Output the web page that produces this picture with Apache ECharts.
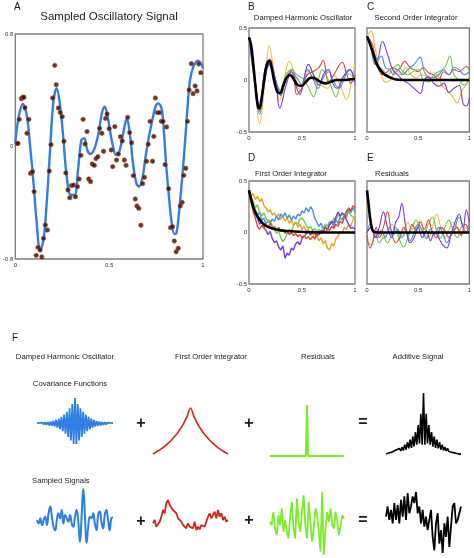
<!DOCTYPE html>
<html><head><meta charset="utf-8">
<script src="https://cdn.jsdelivr.net/npm/echarts@6/dist/echarts.min.js"></script>
<style>html,body{margin:0;padding:0;background:#fff}#c{width:474px;height:558px}</style>
</head><body><div id="c"></div><script>
const FONT = 'Liberation Sans, Arial, Helvetica, sans-serif';
const C_YEL='#f2bd3a', C_RED='#e4452f', C_GRN='#72cc45', C_BLU='#4a8ee6', C_PUR='#7a3be0';

// ---- Panel A ----
const A_CURVE_X = [0,0.018,0.04,0.062,0.079,0.097,0.114,0.132,0.15,0.167,0.185,0.202,0.22,0.237,0.255,0.272,0.295,0.316,0.334,0.352,0.369,0.383,0.401,0.422,0.443,0.461,0.476,0.492,0.501,0.519,0.536,0.554,0.575,0.594,0.61,0.627,0.645,0.659,0.677,0.694,0.712,0.73,0.747,0.761,0.779,0.791,0.803,0.817,0.831,0.847,0.858,0.87,0.888,0.905,0.919,0.931,0.949,0.972,0.989,1.0];
const A_CURVE_Y = [0.03,0.212,0.302,0.212,-0.001,-0.262,-0.546,-0.736,-0.665,-0.404,-0.025,0.307,0.414,0.307,0.07,-0.19,-0.345,-0.345,-0.167,0.046,0.058,-0.025,-0.053,-0.013,0.094,0.236,0.283,0.212,0.141,0.011,-0.06,-0.037,0.094,0.2,0.094,-0.119,-0.262,-0.286,-0.226,-0.072,0.07,0.189,0.283,0.307,0.272,0.117,-0.119,-0.333,-0.522,-0.622,-0.617,-0.499,-0.238,0.046,0.307,0.473,0.568,0.61,0.592,0.556];
const A_PTS_X = [0.009,0.014,0.021,0.032,0.039,0.046,0.051,0.062,0.072,0.081,0.092,0.1,0.111,0.121,0.132,0.141,0.15,0.16,0.171,0.181,0.19,0.199,0.21,0.218,0.229,0.239,0.25,0.259,0.269,0.28,0.29,0.299,0.31,0.32,0.331,0.34,0.349,0.361,0.371,0.382,0.391,0.401,0.41,0.421,0.43,0.44,0.449,0.461,0.47,0.481,0.489,0.5,0.511,0.519,0.53,0.539,0.549,0.56,0.57,0.581,0.59,0.599,0.609,0.62,0.629,0.639,0.648,0.658,0.669,0.678,0.688,0.699,0.708,0.718,0.731,0.738,0.746,0.757,0.768,0.778,0.787,0.798,0.806,0.817,0.827,0.838,0.847,0.857,0.868,0.879,0.889,0.898,0.908,0.917,0.926,0.938,0.947,0.958,0.968,0.977,0.988];
const A_PTS_Y = [0.022,0.022,0.193,0.34,0.35,0.35,0.276,0.094,0.193,-0.19,-0.179,-0.321,-0.774,-0.717,-0.736,-0.786,-0.653,-0.558,-0.594,-0.174,0.013,0.345,0.577,0.44,0.274,0.241,0.212,0.037,-0.188,-0.309,-0.364,-0.278,-0.274,-0.357,-0.285,-0.231,-0.063,0.193,0.018,0.106,-0.231,-0.25,-0.124,-0.134,-0.086,-0.072,0.129,0.094,-0.034,0.2,0.231,0.127,-0.025,-0.143,0.141,-0.096,-0.053,0.07,0.039,-0.096,-0.134,0.207,0.099,0.027,-0.207,-0.373,-0.423,-0.44,-0.56,-0.264,-0.219,-0.105,0.016,0.179,-0.105,0.072,0.345,0.241,0.241,0.179,0.179,-0.129,0.139,-0.3,-0.577,-0.57,-0.672,-0.748,-0.724,-0.423,-0.397,-0.205,-0.155,0.179,0.402,0.589,0.376,0.43,0.395,0.587,0.525];

// ---- Panel B (damped harmonic oscillator) ----
const B_BLACK = [[0,0.41],[0.019,0.339],[0.041,0.145],[0.063,-0.081],[0.082,-0.242],[0.097,-0.274],[0.119,-0.177],[0.145,0.016],[0.167,0.145],[0.192,0.184],[0.214,0.113],[0.239,-0.016],[0.267,-0.113],[0.292,-0.129],[0.324,-0.048],[0.355,0.023],[0.387,0.048],[0.418,0.016],[0.459,-0.048],[0.497,-0.055],[0.538,-0.016],[0.585,0.023],[0.623,0.016],[0.67,-0.016],[0.717,-0.032],[0.774,-0.016],[0.827,0],[0.89,0],[0.953,0.006],[1,0.01]];
const B_YEL = [[0,0.41],[0.05,0.0],[0.1,-0.42],[0.15,-0.02],[0.19,0.33],[0.24,0.05],[0.29,-0.2],[0.33,0.0],[0.38,0.18],[0.43,0.05],[0.48,-0.1],[0.53,0.02],[0.58,0.1],[0.63,-0.02],[0.68,-0.05],[0.74,-0.08],[0.8,0.05],[0.86,-0.05],[0.92,-0.19],[0.97,0.0],[1,0.16]];
const B_RED = [[0,0.41],[0.05,0.05],[0.1,-0.3],[0.15,0.1],[0.2,0.2],[0.25,0.0],[0.3,-0.12],[0.35,0.02],[0.41,0.1],[0.45,-0.14],[0.5,-0.08],[0.55,0.05],[0.6,0.08],[0.66,0.12],[0.7,0.19],[0.75,-0.02],[0.8,0.05],[0.88,0.17],[0.92,0.06],[0.96,-0.03],[1,0.05]];
const B_GRN = [[0,0.41],[0.05,0.0],[0.1,-0.25],[0.15,0.05],[0.2,0.15],[0.25,0.0],[0.3,-0.1],[0.35,0.05],[0.4,0.1],[0.45,0.05],[0.5,0.02],[0.55,-0.05],[0.61,-0.16],[0.65,-0.02],[0.69,0.1],[0.75,0.0],[0.78,-0.08],[0.82,-0.16],[0.88,0.02],[0.94,0.06],[1,0.0]];
const B_BLU = [[0,0.41],[0.05,0.0],[0.1,-0.33],[0.15,0.0],[0.2,0.18],[0.25,0.0],[0.3,-0.15],[0.35,0.0],[0.4,0.08],[0.45,0.02],[0.5,-0.05],[0.55,0.1],[0.6,0.02],[0.65,-0.08],[0.7,0.02],[0.75,0.08],[0.8,-0.02],[0.85,-0.08],[0.9,0.02],[0.95,0.1],[1,-0.05]];
const B_PUR = [[0,0.41],[0.05,0.05],[0.1,-0.25],[0.15,0.05],[0.2,0.15],[0.25,0.0],[0.29,-0.27],[0.35,-0.05],[0.4,0.08],[0.44,-0.05],[0.48,-0.14],[0.52,0.02],[0.56,0.15],[0.61,0.05],[0.66,-0.05],[0.7,0.05],[0.75,0.1],[0.79,-0.03],[0.83,-0.08],[0.9,0.05],[0.95,0.1],[1,-0.02]];

// ---- Panel C (second order integrator) ----
const C_BLACK = [[0,0.42],[0.032,0.34],[0.063,0.244],[0.095,0.154],[0.127,0.1],[0.175,0.051],[0.238,0.019],[0.3,0.003],[0.43,0],[1,0]];
const C_YELL = [[0,0.42],[0.04,0.47],[0.08,0.3],[0.13,0.1],[0.18,-0.02],[0.23,0.0],[0.28,0.1],[0.33,0.05],[0.38,0.12],[0.43,0.05],[0.48,0.02],[0.53,0.05],[0.58,0.03],[0.63,0.0],[0.68,0.05],[0.73,-0.05],[0.78,-0.1],[0.83,-0.15],[0.88,-0.22],[0.93,-0.1],[0.97,-0.05],[1,0.02]];
const C_REDL = [[0,0.42],[0.05,0.35],[0.1,0.15],[0.15,0.05],[0.2,0.08],[0.25,0.12],[0.3,0.1],[0.37,0.18],[0.42,0.12],[0.46,0.1],[0.5,0.08],[0.55,0.12],[0.6,0.07],[0.65,0.05],[0.7,0.0],[0.75,0.08],[0.8,0.05],[0.85,0.1],[0.9,0.08],[0.97,0.13],[1,0.1]];
const C_GRNL = [[0,0.42],[0.05,0.3],[0.1,0.15],[0.15,0.1],[0.2,0.05],[0.25,0.1],[0.3,0.15],[0.35,0.08],[0.4,0.05],[0.45,0.08],[0.5,0.1],[0.55,0.0],[0.6,-0.02],[0.65,0.05],[0.7,0.08],[0.76,0.12],[0.81,0.23],[0.85,0.05],[0.9,0.0],[0.95,-0.05],[1,0.02]];
const C_BLUL = [[0,0.42],[0.04,0.3],[0.08,0.15],[0.14,0.23],[0.18,0.12],[0.22,0.1],[0.26,0.05],[0.3,0.1],[0.35,0.05],[0.4,0.1],[0.46,0.15],[0.52,0.22],[0.56,0.08],[0.6,0.03],[0.65,0.02],[0.7,0.05],[0.75,0.1],[0.8,0.05],[0.85,0.12],[0.9,0.1],[0.95,0.05],[1,0.08]];
const C_PURL = [[0,0.42],[0.05,0.3],[0.1,0.2],[0.15,0.37],[0.2,0.25],[0.25,0.1],[0.3,0.05],[0.35,0.0],[0.4,-0.03],[0.46,-0.08],[0.52,-0.13],[0.56,0.0],[0.6,0.03],[0.65,-0.03],[0.7,-0.06],[0.75,-0.03],[0.8,-0.12],[0.85,-0.08],[0.9,-0.05],[0.94,-0.23],[0.97,-0.25],[1,-0.18]];

// ---- Panel D (first order integrator) ----
const D_BLACK = [[0,0.41],[0.025,0.3],[0.057,0.2],[0.104,0.12],[0.15,0.07],[0.214,0.04],[0.31,0.02],[0.43,0.01],[0.59,0.003],[1,0]];
const D_ORANGE = [0.41,0.36,0.38,0.32,0.35,0.30,0.33,0.26,0.24,0.20,0.22,0.17,0.19,0.15,0.18,0.13,0.16,0.11,0.14,0.09,0.12,0.07,0.10,0.05,0.08,0.03,0.06,0.01,0.03,-0.03,0.00,-0.06,-0.03,-0.08,-0.05,-0.11,-0.08,-0.15,-0.17,-0.11,-0.13,-0.06,-0.04,0.01,-0.01,0.05,0.03,0.08,0.06,0.12,0.15];
const D_BLUE = [0.41,0.33,0.27,0.22,0.17,0.20,0.12,0.14,0.08,0.12,0.09,0.13,0.11,0.16,0.12,0.18,0.15,0.19,0.14,0.17,0.12,0.16,0.13,0.18,0.16,0.21,0.19,0.24,0.20,0.25,0.22,0.14,0.10,0.06,0.09,0.03,0.06,0.02,0.07,0.10,0.06,0.12,0.09,0.15,0.12,0.18,0.15,0.22,0.19,0.24,0.20];
const D_GREEN = [0.41,0.35,0.30,0.24,0.27,0.20,0.16,0.19,0.14,0.10,0.12,0.06,0.03,-0.01,0.02,-0.05,-0.09,-0.06,-0.01,0.03,0.01,0.07,0.10,0.08,0.13,0.14,0.11,0.07,0.04,0.06,0.02,0.04,0.01,0.03,0.00,0.05,0.08,0.06,0.11,0.09,0.14,0.12,0.17,0.15,0.19,0.16,0.21,0.20,0.17,0.15,0.14];
const D_PURPLE = [0.41,0.34,0.26,0.20,0.14,0.08,0.11,0.05,0.02,-0.02,0.01,-0.06,-0.10,-0.08,-0.14,-0.17,-0.13,-0.25,-0.20,-0.22,-0.15,-0.17,-0.11,-0.09,-0.12,-0.06,-0.04,-0.01,0.01,-0.02,0.02,-0.01,-0.03,-0.02,0.02,0.00,0.05,0.03,0.08,0.11,0.09,0.15,0.20,0.16,0.19,0.17,0.12,0.08,0.04,0.05,0.03];
const D_REDL = [0.41,0.30,0.20,0.14,0.06,0.03,0.07,0.04,0.08,0.05,0.09,0.04,0.06,0.02,0.05,0.01,0.03,-0.01,0.02,-0.02,0.00,-0.03,-0.01,-0.04,-0.02,-0.05,-0.03,-0.06,-0.04,-0.07,-0.04,-0.06,-0.02,0.01,-0.01,0.02,0.00,0.04,0.02,0.06,0.04,0.08,0.06,0.11,0.09,0.15,0.20,0.24,0.21,0.26,0.24];

// ---- Panel E (residuals) ----
const E_BLACK = [[0,0.41],[0.016,0.27],[0.03,0.14],[0.048,0.04],[0.063,0.01],[0.11,0],[1,0]];
const E_PUR = [[0,0.0],[0.04,0.05],[0.08,-0.05],[0.12,0.05],[0.16,0.2],[0.2,0.05],[0.24,-0.05],[0.28,0.1],[0.31,0.15],[0.34,0.28],[0.38,0.05],[0.42,-0.1],[0.46,-0.05],[0.5,0.05],[0.54,-0.05],[0.58,0.02],[0.62,-0.08],[0.66,0.0],[0.7,-0.05],[0.74,-0.12],[0.78,-0.15],[0.82,-0.02],[0.86,0.1],[0.9,0.18],[0.94,0.05],[0.97,0.22],[1,0.1]];
const E_RED = [[0,-0.02],[0.03,-0.15],[0.06,-0.08],[0.09,0.05],[0.12,-0.05],[0.16,0.05],[0.2,0.2],[0.24,0.0],[0.28,-0.1],[0.32,-0.05],[0.36,0.05],[0.4,-0.02],[0.44,0.08],[0.48,0.02],[0.52,0.1],[0.56,0.03],[0.6,0.12],[0.64,0.0],[0.68,-0.05],[0.72,0.05],[0.76,0.02],[0.8,-0.05],[0.84,0.0],[0.88,0.05],[0.92,-0.03],[0.96,0.08],[1,0.02]];
const E_GRN = [[0,-0.08],[0.04,-0.12],[0.08,0.0],[0.12,-0.1],[0.16,-0.05],[0.2,-0.1],[0.24,-0.02],[0.28,0.05],[0.32,-0.08],[0.36,-0.14],[0.4,-0.05],[0.44,0.05],[0.48,0.12],[0.52,0.05],[0.56,0.0],[0.6,0.08],[0.64,0.15],[0.68,0.02],[0.72,-0.05],[0.76,0.05],[0.8,0.12],[0.84,0.02],[0.88,-0.05],[0.92,0.05],[0.96,0.08],[1,-0.02]];
const E_YEL = [[0,0.0],[0.04,0.05],[0.08,-0.02],[0.12,0.03],[0.16,-0.05],[0.2,0.0],[0.24,0.08],[0.28,0.02],[0.32,-0.05],[0.36,0.02],[0.4,0.1],[0.44,0.03],[0.48,0.06],[0.52,0.12],[0.56,0.0],[0.6,-0.05],[0.64,0.05],[0.68,0.18],[0.72,0.05],[0.76,-0.05],[0.8,0.02],[0.84,0.1],[0.88,0.05],[0.92,-0.02],[0.96,0.05],[1,0.0]];
const E_BLU = [[0,0.0],[0.03,0.08],[0.06,0.0],[0.1,-0.05],[0.14,0.02],[0.18,-0.05],[0.22,0.05],[0.26,-0.02],[0.3,0.03],[0.34,-0.05],[0.38,0.0],[0.42,-0.08],[0.46,0.0],[0.5,0.08],[0.54,0.02],[0.58,-0.06],[0.62,0.03],[0.66,-0.02],[0.7,0.05],[0.74,0.0],[0.78,-0.1],[0.82,-0.02],[0.86,0.05],[0.9,0.15],[0.94,0.05],[0.97,0.0],[1,0.12]];

// ---- Panel F: covariance functions ----
const F_COV_DHO = [0.02,-0.03,0.03,-0.03,0.04,-0.04,0.05,-0.05,0.06,-0.07,0.08,-0.09,0.1,-0.12,0.14,-0.16,0.19,-0.22,0.26,-0.3,0.35,-0.4,0.46,-0.52,0.6,-0.66,0.76,-0.8,1.0,-0.8,0.76,-0.66,0.6,-0.52,0.46,-0.4,0.35,-0.3,0.26,-0.22,0.19,-0.16,0.14,-0.12,0.1,-0.09,0.08,-0.07,0.06,-0.05,0.05,-0.04,0.04,-0.03,0.03,-0.03,0.02];
const F_COV_FOI = [0.0,0.05,0.1,0.16,0.23,0.31,0.4,0.51,0.64,0.8,1.0,0.8,0.64,0.51,0.4,0.31,0.23,0.16,0.1,0.05,0.0];
const F_COV_RES = [[-1,0],[-0.03,0],[0,1],[0.03,0],[1,0]];
const F_COV_ADD = [0.03,0.03,0.05,0.04,0.06,0.05,0.08,0.06,0.10,0.07,0.12,0.08,0.14,0.09,0.18,0.10,0.22,0.12,0.26,0.13,0.31,0.15,0.38,0.18,0.49,0.2,0.67,0.18,1.0,0.18,0.67,0.2,0.49,0.18,0.38,0.15,0.31,0.13,0.26,0.12,0.22,0.10,0.18,0.09,0.14,0.08,0.12,0.07,0.10,0.06,0.08,0.05,0.06,0.04,0.05,0.03,0.03];

// ---- Panel F: sampled signals ----
const F_SIG_DHO = [0,-1,0.5,-1.5,0,1,-1.5,2,4,1,-2,-3,0,2,0.5,3,-1,1.5,0.5,-0.5,1.5,-1,-2,1,3,-0.5,-6.5,1,9.2,1.5,-6.8,-2,1,0.5,2,-1,-3,1.5,2.5,-0.5,-2.5,1.5,3,0,-3,0.5,0.8];
const F_SIG_FOI = [-1,0,-2,-1.5,-0.5,1,3,2,5,6,4.5,5,3,3.5,2,0.5,1,-0.5,-1.5,-1,-2.5,-1,-2,-1.5,-2.5,-0.5,-3,-2,-2.8,-1.5,-1,-2,-0.5,1,2,0.5,1.5,2.5,0.5,3,1,2,0,1,-0.5,0];
const F_SIG_RES = [0,-1,3,-2,-4,2,-1,4,-3,0.5,-3,-5,2,6,-2,-5,7,0,-3,3,8,-1,-5,6,0,-6,-2,4,2,-3,-9,9,-10,-2,3,0,4,-1,-2,3,0,-4,-1,2,1];
const F_SIG_ADD = [0,3,-1,2,-2,4,-1,3.5,-2,5,0,6,-1,7,1,3,6,4,7.3,1,3,-2,2,-3,0,-4,-1,2,-6,-10,-2,1,-8,-4,-10.8,-2,-6,0,-9,-3,3,4,-2,-1,-1.5,3];

// ---------- build ----------
const idx = a => a.map((_, i) => i);
const xy = (xs, ys) => xs.map((x, i) => [x, ys[i]]);
const even = ys => ys.map((y, i) => [i / (ys.length - 1), y]);

const panelGrid = g => Object.assign({show: true, borderColor: '#7d7d7d', borderWidth: 1.3, backgroundColor: '#fff'}, g);
const grids = [
  panelGrid({left: 14, top: 34, width: 189, height: 225}),
  panelGrid({left: 249, top: 28, width: 106, height: 104}),
  panelGrid({left: 367, top: 28, width: 106, height: 104}),
  panelGrid({left: 249, top: 181, width: 106, height: 103}),
  panelGrid({left: 367, top: 181, width: 106, height: 103}),
  {left: 37, top: 398, width: 76, height: 46},
  {left: 153, top: 408, width: 75, height: 46},
  {left: 270, top: 405, width: 74, height: 51},
  {left: 386, top: 393, width: 75, height: 63},
  {left: 37, top: 489, width: 76, height: 54},
  {left: 153, top: 500, width: 75, height: 30},
  {left: 270, top: 492, width: 74, height: 63},
  {left: 386, top: 492, width: 75, height: 61}
];

const lblStyle = {fontSize: 6, color: '#333', fontFamily: FONT};
const fmt = v => (v === 0 ? '0' : String(v));
function panelX(i) {
  return {type: 'value', gridIndex: i, min: 0, max: 1, interval: 0.5,
    axisLine: {show: false}, axisTick: {show: false}, splitLine: {show: false},
    axisLabel: Object.assign({margin: 3, formatter: fmt, showMinLabel: true, showMaxLabel: true}, lblStyle)};
}
function panelY(i, m, showLabels) {
  return {type: 'value', gridIndex: i, min: -m, max: m, interval: m,
    axisLine: {show: false}, axisTick: {show: false}, splitLine: {show: false},
    axisLabel: Object.assign({show: showLabels, margin: 2, formatter: fmt, showMinLabel: true, showMaxLabel: true}, lblStyle)};
}
const hiddenCat = (i, arr) => ({type: 'category', gridIndex: i, data: idx(arr), boundaryGap: false, show: false});
const hiddenVal = (i, min, max) => ({type: 'value', gridIndex: i, min: min, max: max, show: false});

const xAxes = [panelX(0), panelX(1), panelX(2), panelX(3), panelX(4),
  hiddenCat(5, F_COV_DHO), hiddenCat(6, F_COV_FOI), hiddenVal(7, -1, 1), hiddenCat(8, F_COV_ADD),
  hiddenCat(9, F_SIG_DHO), hiddenCat(10, F_SIG_FOI), hiddenCat(11, F_SIG_RES), hiddenCat(12, F_SIG_ADD)];
const yAxes = [panelY(0, 0.8, true), panelY(1, 0.5, true), panelY(2, 0.5, false), panelY(3, 0.5, true), panelY(4, 0.5, false),
  hiddenVal(5, -0.8, 1.0), hiddenVal(6, 0, 1), hiddenVal(7, 0, 1), hiddenVal(8, 0, 1),
  hiddenVal(9, -6.8, 9.2), hiddenVal(10, -3, 6), hiddenVal(11, -10, 9), hiddenVal(12, -10.8, 7.3)];

function line(i, data, color, width, smooth, z) {
  return {type: 'line', xAxisIndex: i, yAxisIndex: i, data: data, showSymbol: false, symbol: 'none',
    smooth: smooth, lineStyle: {color: color, width: width}, z: z || 2, silent: true, animation: false};
}

const series = [
  line(0, xy(A_CURVE_X, A_CURVE_Y), '#2f7fe3', 2.4, 0.35, 2),
  {type: 'scatter', xAxisIndex: 0, yAxisIndex: 0, data: xy(A_PTS_X, A_PTS_Y), symbolSize: 4.4,
    itemStyle: {color: '#2a0a04', borderColor: '#b8461c', borderWidth: 0.8}, z: 3, silent: true, animation: false},
  line(1, B_YEL, C_YEL, 1.1, 0.4), line(1, B_RED, C_RED, 1.1, 0.4), line(1, B_GRN, C_GRN, 1.1, 0.4),
  line(1, B_BLU, C_BLU, 1.1, 0.4), line(1, B_PUR, C_PUR, 1.1, 0.4), line(1, B_BLACK, '#000', 2.6, 0.4, 4),
  line(2, C_YELL, C_YEL, 1.1, 0.4), line(2, C_REDL, C_RED, 1.1, 0.4), line(2, C_GRNL, C_GRN, 1.1, 0.4),
  line(2, C_BLUL, C_BLU, 1.1, 0.4), line(2, C_PURL, C_PUR, 1.1, 0.4), line(2, C_BLACK, '#000', 2.6, 0.4, 4),
  line(3, even(D_ORANGE), '#f0a020', 1.4, false), line(3, even(D_BLUE), C_BLU, 1.4, false),
  line(3, even(D_GREEN), C_GRN, 1.4, false), line(3, even(D_PURPLE), C_PUR, 1.4, false),
  line(3, even(D_REDL), C_RED, 1.4, false), line(3, D_BLACK, '#000', 2.6, 0.4, 4),
  line(4, E_YEL, C_YEL, 1.1, 0.4), line(4, E_GRN, C_GRN, 1.1, 0.4), line(4, E_RED, C_RED, 1.1, 0.4),
  line(4, E_BLU, C_BLU, 1.1, 0.4), line(4, E_PUR, C_PUR, 1.1, 0.4), line(4, E_BLACK, '#000', 2.6, 0.2, 4),
  line(5, F_COV_DHO, '#2e7ee6', 1.8, false),
  line(6, F_COV_FOI, '#d8231a', 1.6, 0.3),
  line(7, F_COV_RES, '#78ee2a', 2, false),
  line(8, F_COV_ADD, '#000', 1.6, false),
  line(9, F_SIG_DHO, '#2e7ee6', 2, 0.5),
  line(10, F_SIG_FOI, '#d8231a', 1.8, false),
  line(11, F_SIG_RES, '#78ee2a', 1.8, false),
  line(12, F_SIG_ADD, '#000', 1.8, false)
];

const TEXTS = [
  ['A', 14, 7, 10, 'left', 'normal'],
  ['Sampled Oscillatory Signal', 109, 17, 11.5, 'center', 'normal'],
  ['B', 248, 7, 10, 'left', 'normal'],
  ['Damped Harmonic Oscillator', 303, 18, 7.7, 'center', 'normal'],
  ['C', 367, 7, 10, 'left', 'normal'],
  ['Second Order Integrator', 416, 18, 7.7, 'center', 'normal'],
  ['D', 248, 158, 10, 'left', 'normal'],
  ['First Order Integrator', 291, 174, 7.7, 'center', 'normal'],
  ['E', 367, 158, 10, 'left', 'normal'],
  ['Residuals', 392, 174, 7.7, 'center', 'normal'],
  ['F', 12, 338, 10, 'left', 'normal'],
  ['Damped Harmonic Oscillator', 65, 357, 7.7, 'center', 'normal'],
  ['First Order Integrator', 211, 357, 7.7, 'center', 'normal'],
  ['Residuals', 318, 357, 7.7, 'center', 'normal'],
  ['Additive Signal', 418, 357, 7.7, 'center', 'normal'],
  ['Covariance Functions', 70, 384, 7.7, 'center', 'normal'],
  ['Sampled Signals', 32, 481, 7.7, 'left', 'normal'],
  ['+', 141, 424, 16, 'center', 'bold'],
  ['+', 249, 424, 16, 'center', 'bold'],
  ['=', 363, 423, 16, 'center', 'bold'],
  ['+', 141, 522, 16, 'center', 'bold'],
  ['+', 249, 521, 16, 'center', 'bold'],
  ['=', 363, 521, 16, 'center', 'bold']
];
const graphic = TEXTS.map(t => ({type: 'text', silent: true, style: {
  text: t[0], x: t[1], y: t[2], fontSize: t[3], fontFamily: FONT, fontWeight: t[5],
  fill: '#1a1a1a', textAlign: t[4], textVerticalAlign: 'middle'}}));

const chart = echarts.init(document.getElementById('c'), null, {renderer: 'canvas'});
chart.setOption({animation: false, backgroundColor: '#fff', grid: grids, xAxis: xAxes, yAxis: yAxes, series: series, graphic: graphic});
</script></body></html>
